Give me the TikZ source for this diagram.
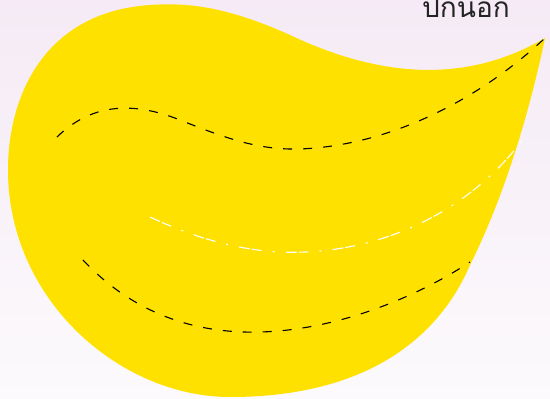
\documentclass[tikz,border=0pt]{standalone}
\usepackage{fontspec}
\newfontfamily\thaifont[Script=Thai]{Loma}
\definecolor{leafyellow}{RGB}{255,225,0}
\definecolor{bgtop}{RGB}{245,234,245}
\definecolor{bgbot}{RGB}{252,250,252}
\definecolor{labelgray}{RGB}{35,35,35}
\tikzset{
  blackdash/.style={draw=black, line width=1.1pt, dash pattern=on 9pt off 11pt},
  whitedashdot/.style={draw=white, line width=1.1pt, dash pattern=on 11pt off 2pt on 10pt off 11pt on 2pt off 11pt},
  leaf/.style={fill=leafyellow, draw=none},
  lbl/.style={text=labelgray, font=\thaifont\fontsize{28}{28}\selectfont, inner sep=0pt}
}
\begin{document}
\begin{tikzpicture}[x=1pt,y=-1pt]
\useasboundingbox (0,0) rectangle (550,399);
\shade[top color=bgtop, bottom color=bgbot] (0,0) rectangle (550,399);
% leaf shape
\path[leaf] (545,38)
  .. controls (470,82) and (385,80) .. (290,35)
  .. controls (230,8) and (190,2) .. (150,5)
  .. controls (45,12) and (8,95) .. (8,170)
  .. controls (8,300) and (120,397) .. (230,397)
  .. controls (370,397) and (440,335) .. (470,265)
  .. controls (505,195) and (530,110) .. (545,38) -- cycle;
% upper black dashed
\draw[blackdash] (57,137)
  .. controls (90,105) and (130,100) .. (180,120)
  .. controls (230,140) and (260,150) .. (300,149)
  .. controls (400,145) and (490,90) .. (545,38);
% white dash-dot
\draw[whitedashdot] (150,217)
  .. controls (210,245) and (260,254) .. (305,252)
  .. controls (400,248) and (480,200) .. (526,135);
% lower black dashed
\draw[blackdash] (83,260)
  .. controls (130,310) and (190,334) .. (260,332)
  .. controls (340,330) and (420,295) .. (470,262);
\node[lbl, anchor=base east] (label) at (510,17) {ปกนอก};
\end{tikzpicture}
\end{document}
